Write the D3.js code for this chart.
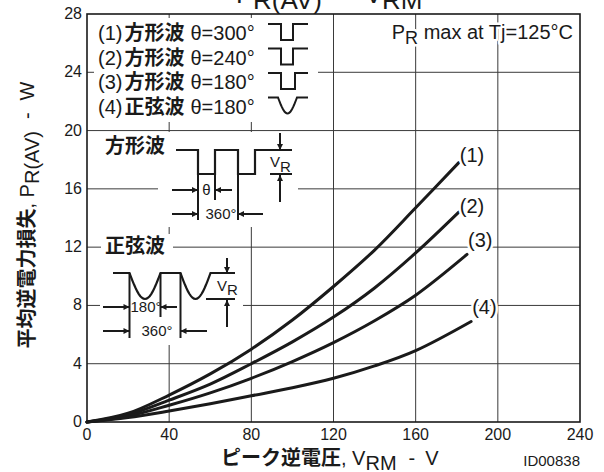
<!DOCTYPE html>
<html>
<head>
<meta charset="utf-8">
<script src="https://cdn.jsdelivr.net/npm/d3@7"></script>
<style>
  body { margin: 0; background: #ffffff; }
  svg { display: block; }
  text { font-family: "Liberation Sans", Arial, sans-serif; fill: #1a1a1a; }
  .jp { font-family: "Noto Sans CJK JP", sans-serif; font-weight: 700; }
  .halo { stroke: #ffffff; stroke-width: 5px; paint-order: stroke; stroke-linejoin: round; }
</style>
</head>
<body>
<div id="chart"></div>
<script>
/* ── data ────────────────────────────────────────────────── */
const curveLabels = ["(1)", "(2)", "(3)", "(4)"];

const vrm1 = [0, 20, 40, 60, 80, 100, 120, 140, 160, 181];
const pr1  = [0, 0.6, 1.85, 3.3, 5.0, 7.0, 9.3, 11.8, 14.7, 17.8];
const vrm2 = [0, 20, 40, 60, 80, 100, 120, 140, 160, 181];
const pr2  = [0, 0.5, 1.5, 2.6, 4.0, 5.5, 7.2, 9.2, 11.6, 14.4];
const vrm3 = [0, 20, 40, 60, 80, 100, 120, 140, 160, 185];
const pr3  = [0, 0.4, 1.15, 2.0, 3.0, 4.15, 5.45, 6.95, 8.7, 11.5];
const vrm4 = [0, 20, 40, 60, 80, 100, 120, 140, 160, 187];
const pr4  = [0, 0.3, 0.75, 1.25, 1.8, 2.35, 3.0, 3.85, 4.9, 6.9];

const legendNo    = ["(1)", "(2)", "(3)", "(4)"];
const legendWave  = ["方形波", "方形波", "方形波", "正弦波"];
const legendTheta = ["θ=300°", "θ=240°", "θ=180°", "θ=180°"];

const xTicks = [0, 40, 80, 120, 160, 200, 240];
const yTicks = [0, 4, 8, 12, 16, 20, 24, 28];

/* ── layout ──────────────────────────────────────────────── */
const W = 604, H = 472;
const pL = 87, pR = 580, pT = 14, pB = 422;

const svg = d3.select("#chart").append("svg")
  .attr("width", W).attr("height", H);

const defs = svg.append("defs");
defs.append("marker")
  .attr("id", "arr")
  .attr("viewBox", "0 0 10 10")
  .attr("refX", 10).attr("refY", 5)
  .attr("markerUnits", "userSpaceOnUse")
  .attr("markerWidth", 8).attr("markerHeight", 6)
  .attr("orient", "auto")
  .append("path").attr("d", "M0,0 L10,5 L0,10 z").attr("fill", "#1a1a1a");

const x = d3.scaleLinear().domain([0, 240]).range([pL, pR]);
const y = d3.scaleLinear().domain([0, 28]).range([pB, pT]);

/* grid */
const grid = svg.append("g").attr("stroke", "#3a3a3a").attr("stroke-width", 1);
grid.selectAll(".gx").data(xTicks.slice(1, -1)).enter().append("line")
  .attr("x1", d => x(d)).attr("x2", d => x(d))
  .attr("y1", pT).attr("y2", pB);
grid.selectAll(".gy").data(yTicks.slice(1, -1)).enter().append("line")
  .attr("x1", pL).attr("x2", pR)
  .attr("y1", d => y(d)).attr("y2", d => y(d));

/* tick labels */
svg.append("g").selectAll("text").data(yTicks).enter().append("text")
  .attr("x", pL - 5).attr("y", d => y(d) + 5)
  .attr("text-anchor", "end").attr("font-size", 16)
  .text(d => d);
svg.append("g").selectAll("text").data(xTicks).enter().append("text")
  .attr("x", d => x(d)).attr("y", pB + 18)
  .attr("text-anchor", "middle").attr("font-size", 16)
  .text(d => d);

/* white panels that mask the grid */
const masks = [
  [94, 18, 224, 104],    // legend
  [158, 132, 140, 95],   // square-wave sketch
  [103, 134, 66, 24],    // 方形波 label
  [101, 234, 72, 24],    // 正弦波 label
  [100, 258, 143, 87]    // sine sketch
];
svg.append("g").selectAll("rect").data(masks).enter().append("rect")
  .attr("x", d => d[0]).attr("y", d => d[1])
  .attr("width", d => d[2]).attr("height", d => d[3])
  .attr("fill", "#ffffff");

/* curves */
const series = [[vrm1, pr1], [vrm2, pr2], [vrm3, pr3], [vrm4, pr4]];
const line = d3.line().x(d => x(d[0])).y(d => y(d[1])).curve(d3.curveCatmullRom.alpha(0.5));
const labelDy = [1, -1, 7, 7];

series.forEach((s, i) => {
  const pts = s[0].map((v, j) => [v, s[1][j]]);
  svg.append("path").datum(pts)
    .attr("d", line)
    .attr("fill", "none")
    .attr("stroke", "#1a1a1a")
    .attr("stroke-width", 3)
    .attr("stroke-linecap", "round");
  const last = pts[pts.length - 1];
  svg.append("text").attr("class", "halo")
    .attr("x", x(last[0]) + 1).attr("y", y(last[1]) - labelDy[i])
    .attr("font-size", 20)
    .text(curveLabels[i]);
});

/* frame */
svg.append("rect")
  .attr("x", pL).attr("y", pT)
  .attr("width", pR - pL).attr("height", pB - pT)
  .attr("fill", "none").attr("stroke", "#1a1a1a").attr("stroke-width", 1.6);

/* legend rows */
const rowBase = [40, 64.5, 89, 113.5];
const lowW = [12, 12, 14, 0];
legendNo.forEach((n, i) => {
  const t = svg.append("text").attr("x", 98).attr("y", rowBase[i]).attr("font-size", 20);
  t.append("tspan").text(n);
  t.append("tspan").attr("class", "jp").attr("dx", 2).text(legendWave[i]);
  t.append("tspan").attr("dx", 6).text(legendTheta[i]);

  const b = rowBase[i], tp = b - 16;
  let d;
  if (i < 3) {
    const x1 = 281, x2 = x1 + lowW[i];
    d = `M268,${tp} H${x1} V${b} H${x2} V${tp} H308`;
  } else {
    const u = d3.range(0, 21).map(k => [278 + 19 * k / 20, tp + 16 * Math.sin(Math.PI * k / 20)]);
    d = `M268,${tp} H278 ` + u.map(p => `L${p[0]},${p[1]}`).join(" ") + ` L297,${tp} H308`;
  }
  svg.append("path").attr("d", d).attr("fill", "none")
    .attr("stroke", "#1a1a1a").attr("stroke-width", 2);
});

/* P_R max note */
const note = svg.append("text").attr("class", "halo")
  .attr("x", 573).attr("y", 39).attr("text-anchor", "end").attr("font-size", 20);
note.append("tspan").text("P");
note.append("tspan").attr("dy", 5).attr("font-size", 18).text("R");
note.append("tspan").attr("dy", -5).text(" max at Tj=125°C");

/* ── square-wave sketch ── */
const ink = "#1a1a1a";
function seg(x1, y1, x2, y2, arrow) {
  const l = svg.append("line").attr("x1", x1).attr("y1", y1).attr("x2", x2).attr("y2", y2)
    .attr("stroke", ink).attr("stroke-width", 2);
  if (arrow) l.attr("marker-end", "url(#arr)");
}
svg.append("text").attr("class", "jp").attr("x", 105).attr("y", 153).attr("font-size", 20).text("方形波");
svg.append("path")
  .attr("d", "M176,150 H198 V174 H215 V150 H238 V174 H255 V150 H292")
  .attr("fill", "none").attr("stroke", ink).attr("stroke-width", 2.2);
seg(270, 174, 292, 174);
seg(198, 174, 198, 220); seg(215, 174, 215, 200); seg(238, 174, 238, 220);
seg(172, 190, 198, 190, true); seg(232, 190, 215, 190, true);
seg(172, 214, 198, 214, true); seg(263, 214, 238, 214, true);
seg(280, 133, 280, 150, true); seg(280, 202, 280, 175, true);
svg.append("text").attr("x", 206.5).attr("y", 195).attr("text-anchor", "middle").attr("font-size", 15).text("θ");
svg.append("text").attr("x", 221).attr("y", 219).attr("text-anchor", "middle").attr("font-size", 15).text("360°");
const vr1 = svg.append("text").attr("x", 270).attr("y", 167).attr("font-size", 15);
vr1.append("tspan").text("V");
vr1.append("tspan").attr("dy", 5).text("R");

/* ── sine sketch ── */
svg.append("text").attr("class", "jp").attr("x", 105).attr("y", 253).attr("font-size", 20).text("正弦波");
const hi = 273, dip = 26;
function halfSine(x0, w) {
  return d3.range(1, 21).map(k => `L${x0 + w * k / 20},${hi + dip * Math.sin(Math.PI * k / 20)}`).join(" ");
}
svg.append("path")
  .attr("d", `M113,${hi} H129.5 ${halfSine(129.5, 31)} H180.5 ${halfSine(180.5, 30)} H235`)
  .attr("fill", "none").attr("stroke", ink).attr("stroke-width", 2.2);
seg(206, 299, 235, 299);
seg(129.5, hi, 129.5, 338); seg(160.5, hi, 160.5, 317); seg(180.5, hi, 180.5, 338);
seg(103, 307, 129.5, 307, true); seg(177, 307, 160.5, 307, true);
seg(103, 331, 129.5, 331, true); seg(207, 331, 180.5, 331, true);
seg(227, 258, 227, 273, true); seg(227, 327, 227, 300, true);
svg.append("text").attr("x", 146).attr("y", 312).attr("text-anchor", "middle").attr("font-size", 15).text("180°");
svg.append("text").attr("x", 157).attr("y", 336).attr("text-anchor", "middle").attr("font-size", 15).text("360°");
const vr2 = svg.append("text").attr("x", 217).attr("y", 291).attr("font-size", 15);
vr2.append("tspan").text("V");
vr2.append("tspan").attr("dy", 4).text("R");

/* ── titles ── */
const tt = svg.append("g").attr("font-size", 26);
tt.append("text").attr("x", 236).attr("y", 3).text("P");
tt.append("text").attr("x", 253).attr("y", 9).text("R(AV)");
tt.append("text").attr("x", 340).attr("y", 3).text("-");
tt.append("text").attr("x", 365).attr("y", 3).text("V");
tt.append("text").attr("x", 382).attr("y", 9).text("RM");

const xt = svg.append("text").attr("x", 221).attr("y", 465).attr("font-size", 20);
xt.append("tspan").attr("class", "jp").text("ピーク逆電圧");
xt.append("tspan").text(", V");
xt.append("tspan").attr("dy", 5).text("RM");
xt.append("tspan").attr("dy", -5).attr("dx", 12).text("-");
xt.append("tspan").attr("dx", 10).text("V");

const yt = svg.append("text")
  .attr("transform", "translate(34,215) rotate(-90)")
  .attr("text-anchor", "middle").attr("font-size", 20);
yt.append("tspan").attr("class", "jp").text("平均逆電力損失");
yt.append("tspan").text(", P");
yt.append("tspan").attr("dy", 5).text("R(AV)");
yt.append("tspan").attr("dy", -5).attr("dx", 12).text("-");
yt.append("tspan").attr("dx", 12).text("W");

svg.append("text").attr("x", 580).attr("y", 466).attr("text-anchor", "end")
  .attr("font-size", 15).text("ID00838");
</script>
</body>
</html>
